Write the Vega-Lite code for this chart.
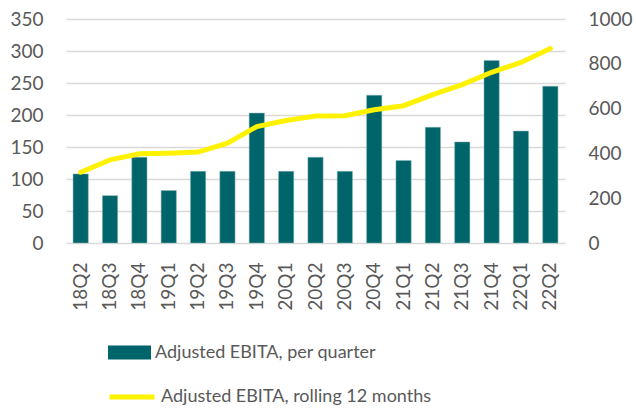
{
  "$schema": "https://vega.github.io/schema/vega-lite/v6.json",
  "width": 499,
  "height": 224,
  "autosize": {"type": "none"},
  "padding": {"left": 66, "top": 19, "right": 71, "bottom": 165},
  "background": "white",
  "config": {
    "view": {"stroke": null},
    "font": "Lato",
    "axis": {"labelFont": "Lato", "labelFontSize": 19, "labelColor": "#595959", "title": null}
  },
  "data": {
    "values": [
      {"q": "18Q2", "ebita": 108, "rolling": 316},
      {"q": "18Q3", "ebita": 74, "rolling": 371},
      {"q": "18Q4", "ebita": 134, "rolling": 398},
      {"q": "19Q1", "ebita": 82, "rolling": 401},
      {"q": "19Q2", "ebita": 112, "rolling": 406},
      {"q": "19Q3", "ebita": 112, "rolling": 446},
      {"q": "19Q4", "ebita": 203, "rolling": 520},
      {"q": "20Q1", "ebita": 112, "rolling": 547},
      {"q": "20Q2", "ebita": 134, "rolling": 567},
      {"q": "20Q3", "ebita": 112, "rolling": 568},
      {"q": "20Q4", "ebita": 231, "rolling": 595},
      {"q": "21Q1", "ebita": 129, "rolling": 613},
      {"q": "21Q2", "ebita": 181, "rolling": 662},
      {"q": "21Q3", "ebita": 158, "rolling": 707},
      {"q": "21Q4", "ebita": 285, "rolling": 762},
      {"q": "22Q1", "ebita": 175, "rolling": 806},
      {"q": "22Q2", "ebita": 245, "rolling": 868}
    ]
  },
  "encoding": {
    "x": {
      "field": "q", "type": "nominal", "sort": null,
      "scale": {"paddingInner": 0.48, "paddingOuter": 0.24},
      "axis": {"labelAngle": -90, "labelAlign": "right", "labelBaseline": "middle", "labelPadding": 19, "ticks": false, "tickSize": 0, "domain": false, "grid": false}
    }
  },
  "layer": [
    {
      "mark": {"type": "bar", "stroke": "#8fb8b9", "strokeWidth": 0.5},
      "encoding": {
        "y": {
          "field": "ebita", "type": "quantitative",
          "scale": {"domain": [0, 350]},
          "axis": {"values": [0, 50, 100, 150, 200, 250, 300, 350], "grid": true, "gridColor": "#d9d9d9", "gridWidth": 1.5, "domain": false, "ticks": false, "tickSize": 0, "labelPadding": 23}
        },
        "fill": {
          "datum": "Adjusted EBITA, per quarter",
          "scale": {"range": ["#00656a"]},
          "legend": {"orient": "none", "legendX": 42, "legendY": 312, "title": null, "symbolType": "M-1,-0.33H1V0.33H-1Z", "symbolSize": 1849, "symbolStrokeWidth": 0, "labelFont": "Lato", "labelFontSize": 18, "labelColor": "#595959", "labelOffset": 4, "labelLimit": 0, "padding": 0}
        }
      }
    },
    {
      "mark": {"type": "line", "strokeWidth": 5, "strokeCap": "round"},
      "encoding": {
        "y": {
          "field": "rolling", "type": "quantitative",
          "scale": {"domain": [0, 1000]},
          "axis": {"orient": "right", "format": "d", "values": [0, 200, 400, 600, 800, 1000], "grid": false, "domain": false, "ticks": false, "tickSize": 0, "labelPadding": 23}
        },
        "stroke": {
          "datum": "Adjusted EBITA, rolling 12 months",
          "scale": {"range": ["#fff200"]},
          "legend": {"orient": "none", "legendX": 41, "legendY": 353, "title": null, "symbolType": "stroke", "symbolSize": 2025, "symbolStrokeWidth": 5, "labelFont": "Lato", "labelFontSize": 18, "labelColor": "#595959", "labelOffset": 4, "labelLimit": 0, "padding": 0}
        }
      }
    }
  ],
  "resolve": {"scale": {"y": "independent"}}
}
